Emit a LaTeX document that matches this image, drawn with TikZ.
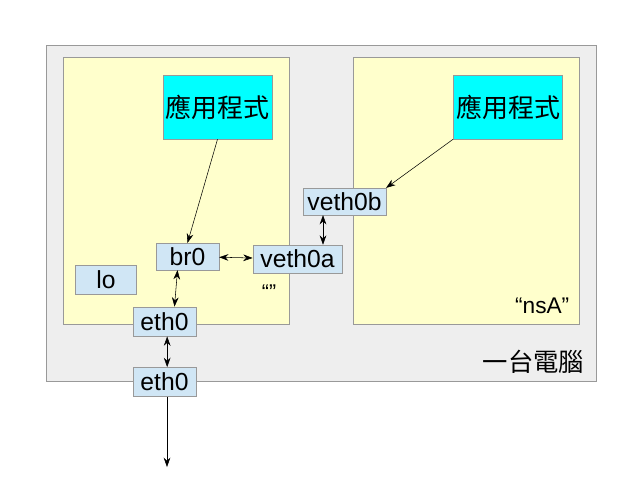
\documentclass[tikz,border=0pt]{standalone}
\usepackage{fontspec}
\setmainfont{Liberation Sans}
\newfontfamily\cjk{Noto Sans CJK TC}
\usetikzlibrary{arrows.meta}
\definecolor{boxgray}{HTML}{EEEEEE}
\definecolor{panelyellow}{HTML}{FFFFCC}
\definecolor{ifblue}{HTML}{D0E6F5}
\definecolor{appcyan}{HTML}{00FFFF}
\definecolor{edgegray}{HTML}{999999}
\tikzset{
  iface/.style={draw=edgegray, fill=ifblue, inner sep=0pt, font=\fontsize{18.5}{21}\selectfont},
  appbox/.style={draw=edgegray, fill=appcyan, inner sep=0pt, minimum width=82pt, minimum height=48pt, font=\cjk\fontsize{19.5}{22}\selectfont},
  panel/.style={draw=edgegray, fill=panelyellow},
  link/.style={-{Stealth[length=7pt,width=5pt]}},
  duplex/.style={{Stealth[length=7pt,width=5pt]}-{Stealth[length=7pt,width=5pt]}}
}
\begin{document}
\begin{tikzpicture}[x=0.75pt,y=-0.75pt]
\useasboundingbox (0,0) rectangle (638,479);
\draw[draw=edgegray, fill=boxgray] (46,45) rectangle (596,381);
\draw[panel] (63,57) rectangle (289,324);
\draw[panel] (353,57) rectangle (579,324);
\node[appbox] (app1) at (217.5,107){應用程式};
\node[appbox] (app2) at (508,107){應用程式};
\node[iface, minimum width=62pt, minimum height=20pt] (veth0b) at (344.5,201.5){veth0b};
\node[iface, minimum width=47pt, minimum height=20pt] (br0) at (187.5,256.5){br0};
\node[iface, minimum width=67pt, minimum height=21pt] (veth0a) at (297.5,259){veth0a};
\node[iface, minimum width=46pt, minimum height=22pt] (lo) at (106,280){lo};
\node[iface, minimum width=47pt, minimum height=22pt] (eth0in) at (164.5,321.5){eth0};
\node[iface, minimum width=47pt, minimum height=22pt] (eth0out) at (164.5,382){eth0};
\node[font=\fontsize{16}{18}\selectfont] (nsroot) at (269,292){“”};
\node[anchor=east, font=\fontsize{17}{19}\selectfont] (nsA) at (574,306){“nsA”};
\node[anchor=east, font=\cjk\fontsize{19}{21}\selectfont] (host) at (589,362){一台電腦};
\coordinate (wire) at (167,467);
% connectors
\draw[link] (app1.south) -- (br0.north);
\draw[link] (app2.south west) -- (veth0b.north east);
\draw[duplex] (br0) -- (veth0a);
\draw[duplex] (veth0a.north -| 323,0) -- (veth0b.south -| 323,0);
\draw[duplex] ([xshift=-7.5pt]br0.south) -- ([xshift=7.5pt]eth0in.north);
\draw[duplex] ([xshift=2pt]eth0in.south) -- ([xshift=2pt]eth0out.north);
\draw[link] (eth0out.south -| wire) -- (wire);
\end{tikzpicture}
\end{document}
